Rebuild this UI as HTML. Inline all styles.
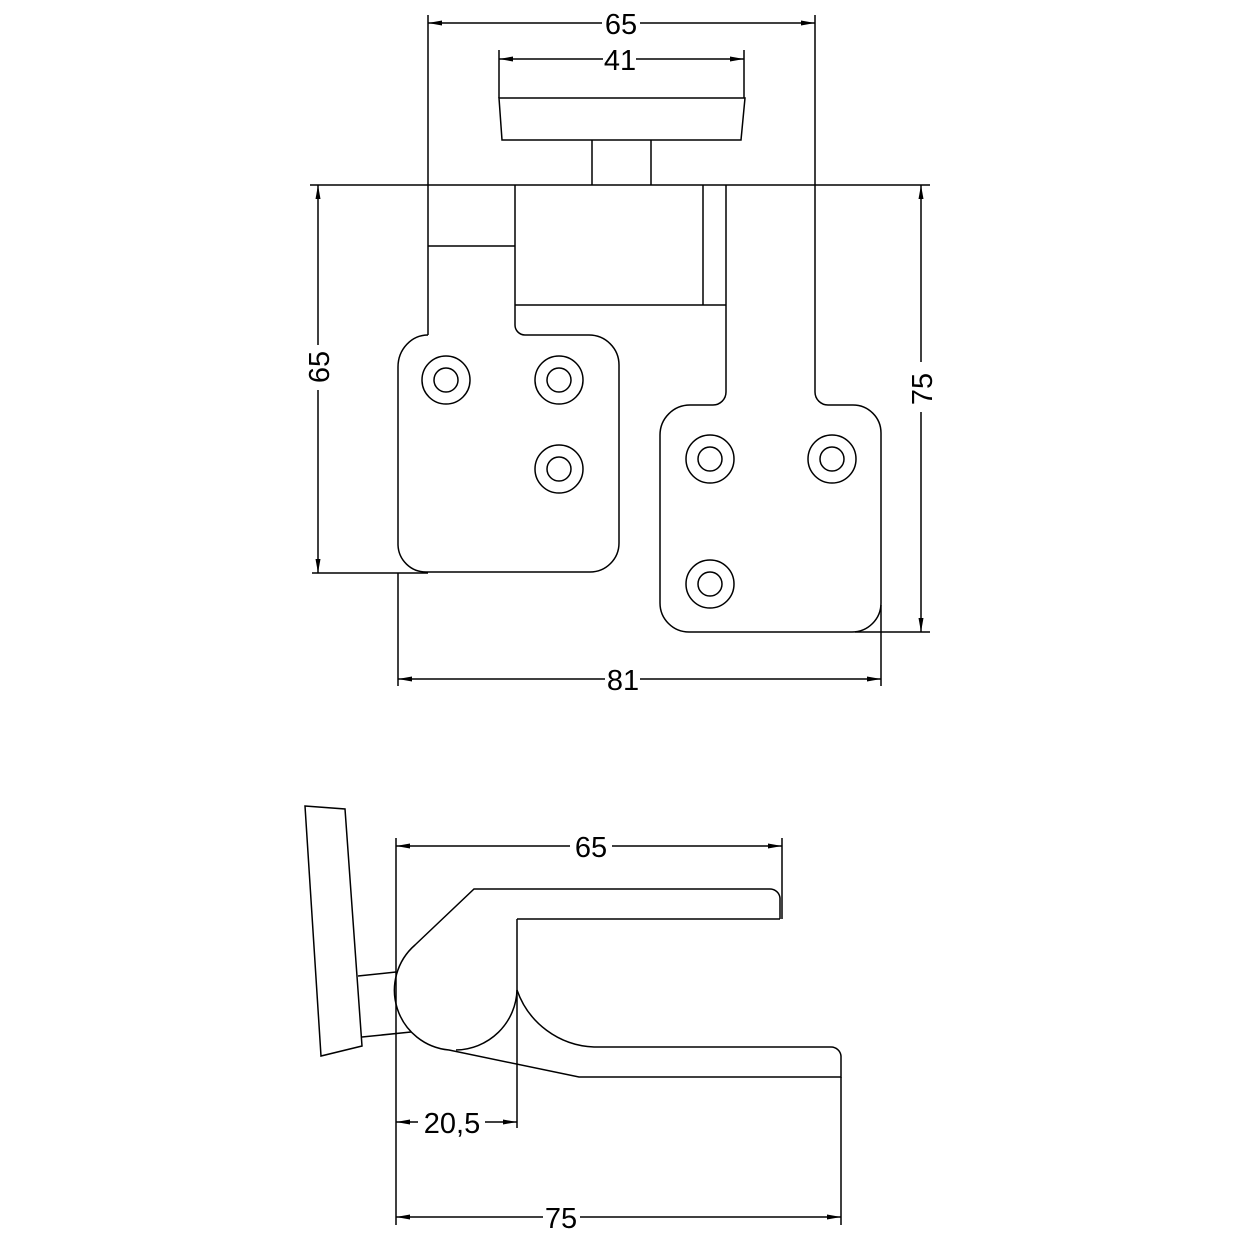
<!DOCTYPE html>
<html><head><meta charset="utf-8"><style>html,body{margin:0;padding:0;background:#fff}svg{display:block}</style></head>
<body>
<svg width="1240" height="1240" viewBox="0 0 1240 1240" xmlns="http://www.w3.org/2000/svg">
<defs>
<marker id="a" viewBox="0 0 14 6" refX="0" refY="3" markerWidth="14" markerHeight="6" markerUnits="userSpaceOnUse" orient="auto"><path d="M0,3 L14,0.5 L14,5.5 Z" fill="#000"/></marker>
<marker id="b" viewBox="0 0 14 6" refX="14" refY="3" markerWidth="14" markerHeight="6" markerUnits="userSpaceOnUse" orient="auto"><path d="M14,3 L0,0.5 L0,5.5 Z" fill="#000"/></marker>
</defs>
<g fill="none" stroke="#000" stroke-width="1.5">
<!-- top view -->
<line x1="310" y1="185" x2="930" y2="185"/>
<line x1="428" y1="15" x2="428" y2="335"/>
<line x1="815" y1="15" x2="815" y2="392"/>
<line x1="428" y1="246" x2="515" y2="246"/>
<line x1="515" y1="185" x2="515" y2="325"/>
<line x1="703" y1="185" x2="703" y2="305"/>
<line x1="726" y1="185" x2="726" y2="392"/>
<line x1="515" y1="305" x2="726" y2="305"/>
<path d="M499,98 L745,98 L741,140 L502,140 Z"/>
<line x1="592" y1="140" x2="592" y2="185"/>
<line x1="651" y1="140" x2="651" y2="185"/>
<path d="M428,335 A30,32 0 0 0 398,367 L398,545 A28,28 0 0 0 426,572 L590,572 A29,29 0 0 0 619,543 L619,365 A30,30 0 0 0 589,335 L525,335 A10,10 0 0 1 515,325"/>
<path d="M726,392 A13,13 0 0 1 713,405 L690,405 A30,30 0 0 0 660,435 L660,603 A29,29 0 0 0 689,632 L852,632 A29,29 0 0 0 881,603 L881,433 A28,28 0 0 0 853,405 L828,405 A13,13 0 0 1 815,392"/>
<circle cx="446" cy="380" r="24"/><circle cx="446" cy="380" r="12"/>
<circle cx="559" cy="380" r="24"/><circle cx="559" cy="380" r="12"/>
<circle cx="559" cy="469" r="24"/><circle cx="559" cy="469" r="12"/>
<circle cx="710" cy="459" r="24"/><circle cx="710" cy="459" r="12"/>
<circle cx="832" cy="459" r="24"/><circle cx="832" cy="459" r="12"/>
<circle cx="710" cy="584" r="24"/><circle cx="710" cy="584" r="12"/>
<!-- dims top -->
<line x1="428" y1="23" x2="602" y2="23" marker-start="url(#a)"/>
<line x1="640" y1="23" x2="815" y2="23" marker-end="url(#b)"/>
<line x1="499" y1="50" x2="499" y2="98"/>
<line x1="744" y1="50" x2="744" y2="98"/>
<line x1="499" y1="59" x2="603" y2="59" marker-start="url(#a)"/>
<line x1="636" y1="59" x2="744" y2="59" marker-end="url(#b)"/>
<line x1="312" y1="573" x2="428" y2="573"/>
<line x1="318" y1="185" x2="318" y2="345" marker-start="url(#a)"/>
<line x1="318" y1="390" x2="318" y2="573" marker-end="url(#b)"/>
<line x1="855" y1="632" x2="930" y2="632"/>
<line x1="921" y1="185" x2="921" y2="362" marker-start="url(#a)"/>
<line x1="921" y1="412" x2="921" y2="632" marker-end="url(#b)"/>
<line x1="398" y1="573" x2="398" y2="686"/>
<line x1="881" y1="605" x2="881" y2="686"/>
<line x1="398" y1="679" x2="605" y2="679" marker-start="url(#a)"/>
<line x1="640" y1="679" x2="881" y2="679" marker-end="url(#b)"/>
<!-- side view -->
<path d="M305,806 L345,809 L362,1046 L321,1056 Z"/>
<line x1="358" y1="976" x2="396" y2="972"/>
<line x1="362" y1="1037" x2="411" y2="1032"/>
<line x1="396" y1="838" x2="396" y2="1225"/>
<path d="M780,919 L780,898 A10,10 0 0 0 770,889 L474,889 L415,945 A60,60 0 0 0 449,1050 L579,1077 L841,1077 L841,1056 A10,10 0 0 0 831,1047 L594,1047 A85,85 0 0 1 517,990"/>
<path d="M456,1050 A62,62 0 0 0 517,990"/>
<line x1="780" y1="919" x2="517" y2="919"/>
<line x1="517" y1="919" x2="517" y2="1128"/>
<line x1="782" y1="838" x2="782" y2="919"/>
<line x1="841" y1="1077" x2="841" y2="1225"/>
<line x1="396" y1="846" x2="570" y2="846" marker-start="url(#a)"/>
<line x1="612" y1="846" x2="782" y2="846" marker-end="url(#b)"/>
<line x1="396" y1="1122" x2="418" y2="1122" marker-start="url(#a)"/>
<line x1="485" y1="1122" x2="517" y2="1122" marker-end="url(#b)"/>
<line x1="396" y1="1217" x2="543" y2="1217" marker-start="url(#a)"/>
<line x1="580" y1="1217" x2="841" y2="1217" marker-end="url(#b)"/>
</g>
<g font-family="Liberation Sans, sans-serif" font-size="29" fill="#000" text-anchor="middle">
<text x="621" y="34">65</text>
<text x="620" y="70">41</text>
<text x="623" y="690">81</text>
<text x="591" y="857">65</text>
<text x="452" y="1133">20,5</text>
<text x="561" y="1228">75</text>
<text transform="translate(329,367) rotate(-90)">65</text>
<text transform="translate(932,389) rotate(-90)">75</text>
</g>
</svg>
</body></html>
